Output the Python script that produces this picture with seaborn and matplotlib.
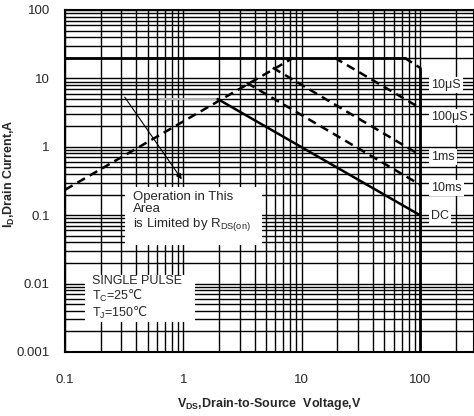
import pandas as pd
import matplotlib
matplotlib.use("Agg")
import matplotlib.pyplot as plt
from matplotlib.patches import Rectangle
import seaborn as sns

# safe operating area curves (V, A)
rds_v = [0.1, 8.5]
rds_i = [0.235, 20]
lim_v = [0.1, 74]
lim_i = [20, 20]
us10_v = [74, 100]
us10_i = [20, 14.3]
us100_v = [19, 100]
us100_i = [20, 3.7]
ms1_v = [5.7, 100]
ms1_i = [14.3, 0.76]
ms10_v = [3.44, 100]
ms10_i = [8.6, 0.28]
dc_v = [1.95, 100]
dc_i = [5.0, 0.1]
vmax_v = [100, 100]
vmax_i = [14.3, 0.001]
grey_v = [0.63, 1.95]
grey_i = [5.0, 5.0]

curve_labels = ["10μS", "100μS", "1ms", "10ms", "DC"]
label_y = [8.1, 2.75, 0.71, 0.25, 0.098]
x_ticks = [0.1, 1, 10, 100]
x_ticklabels = ["0.1", "1", "10", "100"]
y_ticks = [0.001, 0.01, 0.1, 1, 10, 100]
y_ticklabels = ["0.001", "0.01", "0.1", "1", "10", "100"]

sns.set_style("white")
plt.rcParams['font.family'] = ['Liberation Sans', 'DejaVu Sans']
plt.rcParams['mathtext.fontset'] = 'custom'
plt.rcParams['mathtext.rm'] = 'Liberation Sans'
plt.rcParams['mathtext.bf'] = 'Liberation Sans:bold'
plt.rcParams['mathtext.sf'] = 'DejaVu Sans'

fig = plt.figure(figsize=(4.74, 4.16), dpi=100)
ax = fig.add_axes([65 / 474, 1 - 352 / 416, 1 - 65 / 474, 342 / 416])
ax.set_xscale('log')
ax.set_yscale('log')
ax.set_xlim(0.1, 286)
ax.set_ylim(0.001, 100)

ax.grid(True, which='both', color='black', linewidth=1.0)
ax.set_axisbelow(True)
for s in ax.spines.values():
    s.set_color('black')
    s.set_linewidth(1.5)

def draw(v, i, dashed=False, lw=1.8, color='black'):
    df = pd.DataFrame({'V': v, 'I': i})
    sns.lineplot(data=df, x='V', y='I', ax=ax, color=color, lw=lw,
                 sort=False, estimator=None)
    if dashed:
        ax.lines[-1].set_dashes((3.5, 2.2))

draw(grey_v, grey_i, color='#b0b0b0', lw=1.5)
draw(rds_v, rds_i, dashed=True)
draw(lim_v, lim_i, lw=2.0)
draw(us10_v, us10_i, dashed=True)
draw(us100_v, us100_i, dashed=True)
draw(ms1_v, ms1_i, dashed=True)
draw(ms10_v, ms10_i, dashed=True)
draw(dc_v, dc_i)
draw(vmax_v, vmax_i, lw=2.0)

for lab, yv in zip(curve_labels, label_y):
    ax.text(124, yv, lab, fontsize=9, ha='left', va='center',
            bbox=dict(facecolor='white', edgecolor='none', pad=1.5))

# white note boxes
ax.add_patch(Rectangle((0.147, 0.313), 0.335, 0.170, transform=ax.transAxes,
                       facecolor='white', edgecolor='none', zorder=1.5))
ax.add_patch(Rectangle((0.049, 0.088), 0.269, 0.137, transform=ax.transAxes,
                       facecolor='white', edgecolor='none', zorder=1.5))

ax.annotate('', xy=(1.0, 0.31), xytext=(0.31, 5.75),
            arrowprops=dict(arrowstyle='-|>', lw=0.8, color='black',
                            mutation_scale=8))
ax.text(0.375, 0.112,
        'Operation in This\nArea\nis Limited by R$_{\\mathrm{DS(on)}}$',
        fontsize=9.5, ha='left', va='center', linespacing=1.05, zorder=3)
ax.text(0.169, 0.0062,
        'SINGLE PULSE\nT$_{\\mathrm{C}}$=25$\\mathsf{℃}$\nT$_{\\mathrm{J}}$=150$\\mathsf{℃}$',
        fontsize=9, ha='left', va='center', linespacing=1.05, zorder=3)

ax.set_xticks(x_ticks)
ax.set_xticklabels(x_ticklabels)
ax.set_yticks(y_ticks)
ax.set_yticklabels(y_ticklabels)
ax.tick_params(axis='both', which='both', length=0, labelsize=9.5)
ax.tick_params(axis='x', pad=16)
ax.tick_params(axis='y', pad=11)

ax.set_xlabel('V$_{\\mathbf{DS}}$,Drain-to-Source  Voltage,V', fontsize=9,
              fontweight='bold', labelpad=7)
ax.set_ylabel('I$_{\\mathbf{D}}$,Drain Current,A', fontsize=9,
              fontweight='bold')
ax.yaxis.set_label_coords(-0.118, 0.52)

fig.savefig('out.png', dpi=100)
